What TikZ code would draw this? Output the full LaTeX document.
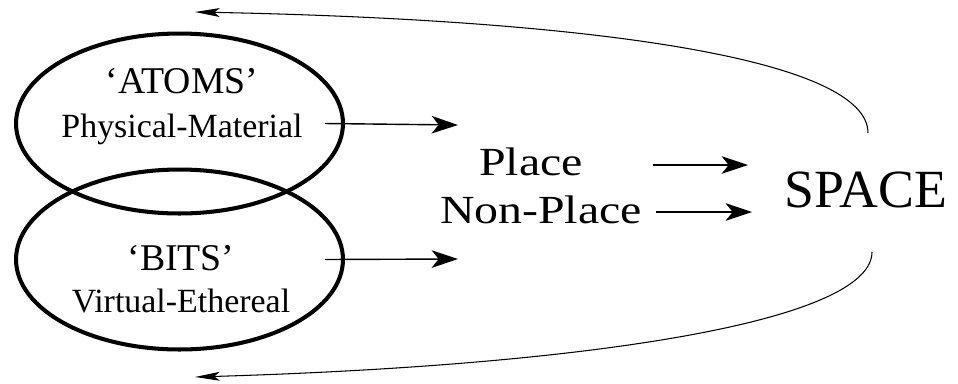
\documentclass[tikz,border=0pt]{standalone}
\usepackage{fontspec}
\setmainfont{Liberation Serif}
\newfontfamily\placefont[FakeStretch=1.2]{Liberation Serif}
\usetikzlibrary{arrows.meta, shapes.geometric}

\begin{document}
\begin{tikzpicture}[x=0.02cm, y=-0.02cm,
    blob/.style={draw, ellipse, line width=2.3pt, minimum width=6.54cm, minimum height=3.6cm, inner sep=0pt},
    title/.style={anchor=base, font=\fontsize{21.5}{24}\selectfont},
    desc/.style={anchor=base, font=\fontsize{19.3}{22}\selectfont},
    arr/.style={-{Stealth[length=15pt, width=10pt, inset=4pt]}, line width=0.8pt},
    backarr/.style={-{Stealth[length=14pt, width=5pt, inset=3pt]}, line width=0.6pt}]
    \useasboundingbox (0,0) rectangle (958,383);

    % Ellipses
    \node[blob] (atoms) at (179.5,123.5) {};
    \node[blob] (bits) at (179.5,259.5) {};

    % Labels inside
    \node[title] (atomslbl) at (182,93) {‘ATOMS’};
    \node[desc] (atomsdesc) at (182,137) {Physical-Material};
    \node[title] (bitslbl) at (181,270) {‘BITS’};
    \node[desc] (bitsdesc) at (181,312) {Virtual-Ethereal};

    % Middle and right
    \node[anchor=base, font=\placefont\fontsize{22.7}{26}\selectfont] (place) at (531,175) {Place};
    \node[anchor=base, font=\placefont\fontsize{22.7}{26}\selectfont] (nonplace) at (541,223) {Non-Place};
    \node[anchor=base, font=\fontsize{30.6}{34}\selectfont] (space) at (866,207) {SPACE};

    % Arrows to place
    \coordinate (atomsend) at (458,125);
    \coordinate (bitsend) at (458,259);
    \draw[arr] ([xshift=-0.4cm]atoms.east) -- (atomsend);
    \draw[arr] ([xshift=-0.4cm]bits.east) -- (bitsend);

    % Arrows to space
    \coordinate (placestart) at (653,165);
    \coordinate (placeend) at (748,165);
    \coordinate (nonstart) at (656,212);
    \coordinate (nonend) at (752,212);
    \draw[arr] (placestart) -- (placeend);
    \draw[arr] (nonstart) -- (nonend);

    % Curves back
    \coordinate (topstart) at (868,133);
    \coordinate (topend) at (195,12);
    \coordinate (botstart) at (872,252);
    \coordinate (botend) at (195,377);
    \draw[backarr] (topstart) .. controls (868,60) and (600,20) .. (topend);
    \draw[backarr] (botstart) .. controls (872,320) and (600,365) .. (botend);
\end{tikzpicture}
\end{document}
